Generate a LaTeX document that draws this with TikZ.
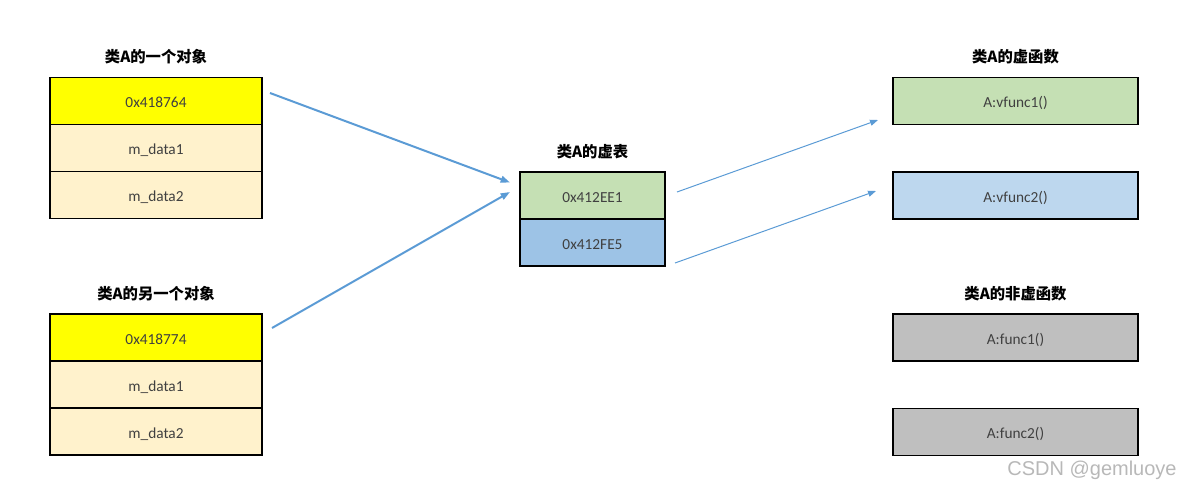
\documentclass[tikz,border=0pt]{standalone}
\usepackage{fontspec}
\setmainfont{Carlito}
\newfontfamily\cjk{Noto Sans CJK SC}
\newfontfamily\wmfont{Liberation Sans}
\usetikzlibrary{positioning, arrows.meta}
\definecolor{ptrYellow}{RGB}{255, 255, 0}
\definecolor{dataCream}{RGB}{255, 242, 204}
\definecolor{vtGreen}{RGB}{197, 224, 180}
\definecolor{vtBlue}{RGB}{157, 195, 230}
\definecolor{fnBlue}{RGB}{189, 215, 238}
\definecolor{fnGray}{RGB}{191, 191, 191}
\definecolor{linkBlue}{RGB}{91, 155, 213}
\definecolor{cellText}{RGB}{64, 64, 64}

\begin{document}
\begin{tikzpicture}[
                x=0.75pt, y=-0.75pt,
                node distance=0pt,
                cell/.style={rectangle, draw=black, line width=1.1pt, outer sep=0pt, minimum height=35.25pt, font=\fontsize{11.5}{13}\selectfont, text=cellText, text height=10pt, text depth=0pt},
                objcell/.style={cell, minimum width=159pt},
                ptr/.style={objcell, fill=ptrYellow},
                data/.style={objcell, fill=dataCream},
                slot/.style={cell, minimum width=108.75pt},
                func/.style={cell, minimum width=183.75pt},
                title/.style={font=\cjk\bfseries\fontsize{11.5}{13}\selectfont, text=black, label distance=6.5pt},
                link/.style={-{Triangle[length=7pt, width=5pt]}, draw=linkBlue, line width=1.5pt},
                thinlink/.style={link, line width=0.75pt, -{Triangle[length=6pt, width=4.5pt]}}
            ]

                \useasboundingbox (0,0) rectangle (1184,490);

                % --- FIRST OBJECT (LEFT, TOP) ---
                \node[ptr, label={[title]above:类A的一个对象}] (obj1_ptr) at (156,101) {0x418764};
                \node[data, below=of obj1_ptr] (obj1_d1) {m\_data1};
                \node[data, below=of obj1_d1] (obj1_d2) {m\_data2};

                % --- SECOND OBJECT (LEFT, BOTTOM) ---
                \node[ptr, label={[title]above:类A的另一个对象}] (obj2_ptr) at (156,337.5) {0x418774};
                \node[data, below=of obj2_ptr] (obj2_d1) {m\_data1};
                \node[data, below=of obj2_d1] (obj2_d2) {m\_data2};

                % --- VTABLE (MIDDLE) ---
                \node[slot, fill=vtGreen, label={[title]above:类A的虚表}] (vt_e1) at (592.5,195.5) {0x412EE1};
                \node[slot, fill=vtBlue, below=of vt_e1] (vt_e2) {0x412FE5};

                % --- FUNCTIONS (RIGHT) ---
                \node[func, fill=vtGreen, label={[title]above:类A的虚函数}] (vf1) at (1015.5,101) {A:vfunc1()};
                \node[func, fill=fnBlue] (vf2) at (1015.5,195.5) {A:vfunc2()};
                \node[func, fill=fnGray, label={[title]above:类A的非虚函数}] (nf1) at (1015.5,337.5) {A:func1()};
                \node[func, fill=fnGray] (nf2) at (1015.5,432) {A:func2()};

                % Arrows
                \draw[link] ([shift={(8,-8)}]obj1_ptr.east) -- ([shift={(-10,-13)}]vt_e1.west);
                \draw[link] ([shift={(10,-9.5)}]obj2_ptr.east) -- ([shift={(-10,-3.5)}]vt_e1.west);
                \draw[thinlink] ([shift={(12,-3.5)}]vt_e1.east) -- ([shift={(-15,19)}]vf1.west);
                \draw[thinlink] ([shift={(10,20.5)}]vt_e2.east) -- ([shift={(-17,-4.5)}]vf2.west);

                % watermark
                \node[font=\wmfont\fontsize{15}{17}\selectfont, text=black!28] (mark) at (1092,470) {CSDN @gemluoye};

\end{tikzpicture}
\end{document}
